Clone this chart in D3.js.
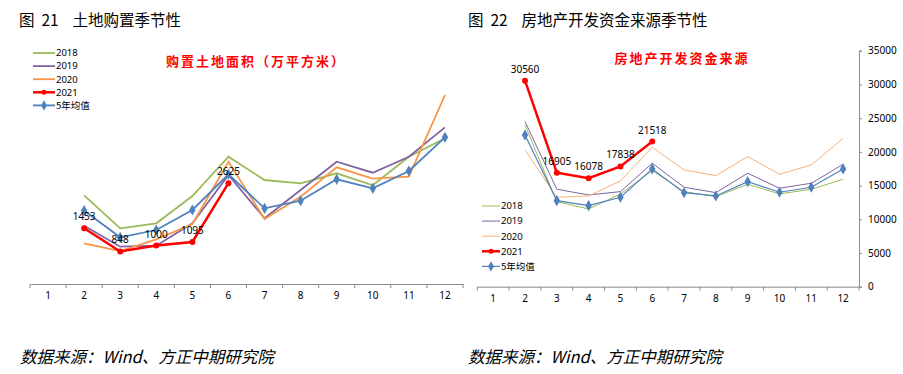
<!DOCTYPE html>
<html>
<head>
<meta charset="utf-8">
<script src="https://cdn.jsdelivr.net/npm/d3@7"></script>
<style>
  body { margin: 0; background: #fff; }
  svg { display: block; font-family: "Noto Sans CJK SC", "Noto Sans", sans-serif; }
</style>
</head>
<body>
<svg id="chart" width="903" height="374"></svg>
<script>
var months = ['1', '2', '3', '4', '5', '6', '7', '8', '9', '10', '11', '12'];

// land purchase (10k m2), months 2..12
var land2018 = [null, 2310, 1450, 1580, 2290, 3315, 2708, 2622, 2883, 2570, 3315, 3794];
var land2019 = [null, 1518, 971, 997, 1580, 2838, 1711, 2448, 3185, 2898, 3315, 4080];
var land2020 = [null, 1060, 859, 1164, 1562, 3185, 1693, 2273, 3039, 2742, 2794, 4922];
var land2021 = [null, 1453, 848, 1000, 1095, 2625, null, null, null, null, null, null];
var landAvg = [null, 1909, 1216, 1406, 1927, 2856, 1971, 2169, 2726, 2492, 2943, 3820];

// real estate development funds (100m yuan)
var fund2018 = [null, 23990, 12614, 11530, 13757, 17214, 14100, 13356, 15196, 13757, 14454, 15938];
var fund2019 = [null, 24490, 14454, 13608, 14100, 18312, 14750, 13950, 16829, 14602, 15344, 18164];
var fund2020 = [null, 20280, 13267, 13460, 15686, 20687, 17318, 16472, 19292, 16680, 18060, 22022];
var fund2021 = [null, 30560, 16905, 16078, 17838, 21518, null, null, null, null, null, null];
var fundAvg = [null, 22500, 12762, 12020, 13267, 17467, 13950, 13460, 15582, 14009, 14750, 17467];

var fundTicks = [0, 5000, 10000, 15000, 20000, 25000, 30000, 35000];

var colors = {
    y2018: '#9bbb59',
    y2019: '#8064a2',
    y2020: '#f79646',
    y2021: '#ff0000',
    avg: '#4f81bd'
};

var svg = d3.select('#chart');

function drawChart(cfg) {
    var g = svg.append('g');
    var x = d3.scaleBand().domain(months).range(cfg.xRange);
    var y = d3.scaleLinear().domain(cfg.yDomain).range(cfg.yRange);
    var cx = function (i) { return x(months[i]) + x.bandwidth() / 2; };

    // x axis
    var xAxis = d3.axisBottom(x).tickSize(0).tickPadding(8);
    var xg = g.append('g').attr('transform', 'translate(0,' + cfg.yRange[0] + ')').call(xAxis);
    xg.select('.domain').attr('stroke', '#8c8c8c');
    xg.selectAll('text').attr('font-size', 10).attr('fill', '#000').attr('font-family', 'Noto Sans');
    var bounds = months.map(function (m) { return x(m); }).concat([cfg.xRange[1]]);
    xg.selectAll('.sep').data(bounds).enter().append('line')
        .attr('x1', function (d) { return d; }).attr('x2', function (d) { return d; })
        .attr('y1', 0).attr('y2', 4).attr('stroke', '#8c8c8c');

    if (cfg.rightAxis) {
        var yAxis = d3.axisRight(y).tickValues(fundTicks).tickFormat(d3.format('d'))
            .tickSize(3).tickPadding(6);
        var yg = g.append('g').attr('transform', 'translate(' + cfg.xRange[1] + ',0)').call(yAxis);
        yg.select('.domain').attr('stroke', '#8c8c8c');
        yg.selectAll('line').attr('stroke', '#8c8c8c');
        yg.selectAll('text').attr('font-size', 10).attr('fill', '#000').attr('font-family', 'Noto Sans');
    }

    var line = d3.line()
        .defined(function (d) { return d != null; })
        .x(function (d, i) { return cx(i); })
        .y(function (d) { return y(d); });

    cfg.series.forEach(function (s) {
        g.append('path').datum(s.values)
            .attr('fill', 'none')
            .attr('stroke', s.color)
            .attr('stroke-width', s.width)
            .attr('d', line);
        var pts = s.values.map(function (v, i) { return { v: v, i: i }; })
            .filter(function (p) { return p.v != null; });
        if (s.marker === 'circle') {
            g.selectAll(null).data(pts).enter().append('circle')
                .attr('cx', function (p) { return cx(p.i); })
                .attr('cy', function (p) { return y(p.v); })
                .attr('r', 3).attr('fill', s.color);
        } else if (s.marker === 'diamond') {
            g.selectAll(null).data(pts).enter().append('path')
                .attr('d', d3.symbol().type(d3.symbolDiamond).size(36))
                .attr('transform', function (p) { return 'translate(' + cx(p.i) + ',' + y(p.v) + ')'; })
                .attr('fill', s.color);
        }
        if (s.labels) {
            g.selectAll(null).data(pts).enter().append('text')
                .attr('x', function (p) { return cx(p.i); })
                .attr('y', function (p) { return y(p.v) - 8; })
                .attr('text-anchor', 'middle')
                .attr('font-size', 10)
                .attr('font-family', 'Noto Sans')
                .attr('fill', '#000')
                .text(function (p) { return p.v; });
        }
    });

    // legend
    cfg.series.slice().sort(function (a, b) { return a.order - b.order; }).forEach(function (s, k) {
        var ly = cfg.legend.y + k * cfg.legend.step;
        var lg = g.append('g');
        lg.append('line').attr('x1', cfg.legend.x).attr('x2', cfg.legend.x + cfg.legend.len)
            .attr('y1', ly).attr('y2', ly).attr('stroke', s.color).attr('stroke-width', s.width);
        var mx = cfg.legend.x + cfg.legend.len / 2;
        if (s.marker === 'circle') {
            lg.append('circle').attr('cx', mx).attr('cy', ly).attr('r', 2.5).attr('fill', s.color);
        } else if (s.marker === 'diamond') {
            lg.append('path').attr('d', d3.symbol().type(d3.symbolDiamond).size(30))
                .attr('transform', 'translate(' + mx + ',' + ly + ')').attr('fill', s.color);
        }
        lg.append('text').attr('x', cfg.legend.x + cfg.legend.len + 1).attr('y', ly + 3.3)
            .attr('font-size', 9.5).attr('fill', '#000')
            .attr('font-family', /^\d+$/.test(s.name) ? 'Noto Sans' : 'Noto Sans CJK SC')
            .text(s.name);
    });

    g.append('text').attr('x', cfg.sub.x).attr('y', cfg.sub.y)
        .attr('text-anchor', 'middle').attr('font-size', 13).attr('font-weight', 'bold')
        .attr('fill', '#ff0000').attr('letter-spacing', 2).text(cfg.sub.text);
}

drawChart({
    xRange: [30, 463],
    yDomain: [0, 6000],
    yRange: [284, 53.6],
    rightAxis: false,
    legend: { x: 33, y: 53, step: 13.1, len: 22 },
    sub: { x: 256, y: 66, text: '购置土地面积（万平方米）' },
    series: [
        { name: '2018', values: land2018, color: colors.y2018, width: 1.8, order: 0 },
        { name: '2019', values: land2019, color: colors.y2019, width: 1.8, order: 1 },
        { name: '2020', values: land2020, color: colors.y2020, width: 1.8, order: 2 },
        { name: '5年均值', values: landAvg, color: colors.avg, width: 1.8, marker: 'diamond', order: 4 },
        { name: '2021', values: land2021, color: colors.y2021, width: 2.5, marker: 'circle', labels: true, order: 3 }
    ]
});

drawChart({
    xRange: [477.3, 859],
    yDomain: [0, 35000],
    yRange: [286.7, 50.7],
    rightAxis: true,
    legend: { x: 482, y: 206, step: 15.1, len: 18 },
    sub: { x: 682, y: 63, text: '房地产开发资金来源' },
    series: [
        { name: '2018', values: fund2018, color: colors.y2018, width: 1, order: 0 },
        { name: '2019', values: fund2019, color: colors.y2019, width: 1, order: 1 },
        { name: '2020', values: fund2020, color: '#fab27a', width: 1, order: 2 },
        { name: '5年均值', values: fundAvg, color: colors.avg, width: 1.2, marker: 'diamond', order: 4 },
        { name: '2021', values: fund2021, color: colors.y2021, width: 2.5, marker: 'circle', labels: true, order: 3 }
    ]
});

// figure titles
svg.append('text').attr('x', 19).attr('y', 26).attr('font-size', 15.5).attr('fill', '#000')
    .attr('xml:space', 'preserve').text('图  21    土地购置季节性');
svg.append('text').attr('x', 468).attr('y', 26).attr('font-size', 15.5).attr('fill', '#000')
    .attr('xml:space', 'preserve').text('图  22    房地产开发资金来源季节性');

// sources
svg.append('text').attr('x', 20).attr('y', 363).attr('font-size', 16.5).attr('font-style', 'italic')
    .attr('fill', '#000').text('数据来源：Wind、方正中期研究院');
svg.append('text').attr('x', 468).attr('y', 363).attr('font-size', 16.5).attr('font-style', 'italic')
    .attr('fill', '#000').text('数据来源：Wind、方正中期研究院');
</script>
</body>
</html>
